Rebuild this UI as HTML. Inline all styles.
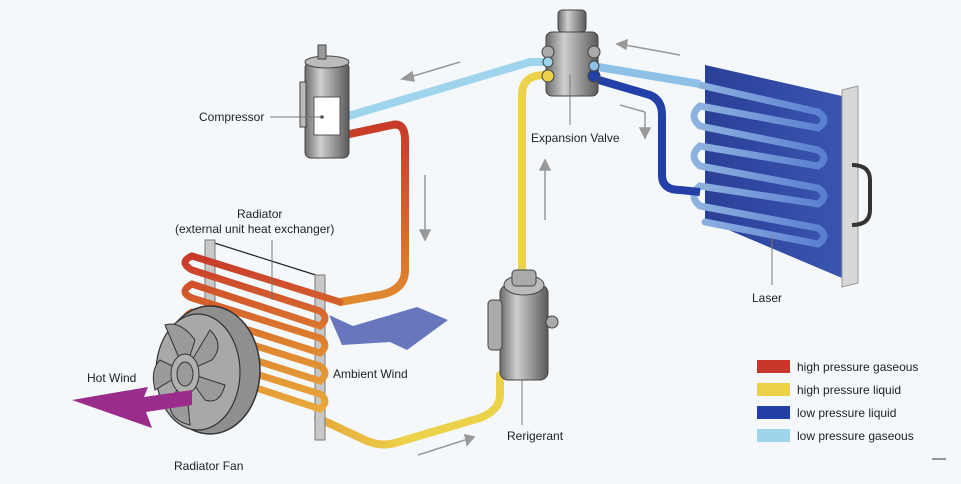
<!DOCTYPE html>
<html><head><meta charset="utf-8"><style>
html,body{margin:0;padding:0;background:#f4f8fb;}
svg{display:block;font-family:"Liberation Sans",sans-serif;}
</style></head><body>
<svg width="961" height="484" viewBox="0 0 961 484" xmlns="http://www.w3.org/2000/svg">
<defs>
<linearGradient id="rad" x1="0" y1="0" x2="0" y2="1"><stop offset="0" stop-color="#c8382a"/><stop offset="0.6" stop-color="#e0862f"/><stop offset="1" stop-color="#e8a93a"/></linearGradient>
<linearGradient id="redp" x1="0" y1="0" x2="0" y2="1"><stop offset="0" stop-color="#c83a28"/><stop offset="1" stop-color="#e08a30"/></linearGradient>
<linearGradient id="yel" x1="0" y1="0" x2="1" y2="0"><stop offset="0" stop-color="#e8a83a"/><stop offset="0.5" stop-color="#ecd24a"/><stop offset="1" stop-color="#ecd24a"/></linearGradient>
<linearGradient id="cyl" x1="0" y1="0" x2="1" y2="0"><stop offset="0" stop-color="#6c6c6c"/><stop offset="0.35" stop-color="#cfcfcf"/><stop offset="1" stop-color="#5a5a5a"/></linearGradient>
<linearGradient id="laser" x1="0" y1="0" x2="1" y2="0"><stop offset="0" stop-color="#2a3f98"/><stop offset="1" stop-color="#3a55b0"/></linearGradient>
<linearGradient id="coilb" x1="0" y1="0" x2="1" y2="0"><stop offset="0" stop-color="#8fb3e0"/><stop offset="1" stop-color="#5a7fd0"/></linearGradient>
</defs>

<path d="M345 117 L530 62 L548 62" fill="none" stroke="#9fd5ec" stroke-width="8"/>
<path d="M345 135 L392 125 Q405 122 405 140 L405 270 Q405 290 380 295 L340 302" fill="none" stroke="url(#redp)" stroke-width="8" stroke-linecap="round"/>
<path d="M545 75 Q522 75 522 95 L522 290" fill="none" stroke="#ecd24a" stroke-width="8"/>
<path d="M500 375 L500 395 Q500 410 480 418 L395 443 Q380 447 365 440 L318 418" fill="none" stroke="url(#yel)" stroke-width="8" stroke-linecap="round"/>

<polygon points="705,65 842,96 842,278 705,220" fill="url(#laser)"/>
<polygon points="842,90 858,86 858,283 842,287" fill="#d8d8d8" stroke="#999" stroke-width="1"/>
<path d="M852 165 Q870 165 870 180 L870 210 Q870 225 852 225" fill="none" stroke="#333" stroke-width="4"/>
<g fill="none" stroke="url(#coilb)" stroke-width="7" stroke-linecap="round">
<path d="M700 85 L818 112 Q830 120 818 128 L700 106 Q688 116 700 126 L818 150 Q830 158 818 166 L700 146 Q688 156 700 166 L818 188 Q830 196 818 204 L700 186 Q688 196 700 206 L818 228 Q830 236 818 244 L705 222"/>
</g>
<path d="M592 66 L700 84" fill="none" stroke="#8fc0e6" stroke-width="8"/>
<path d="M592 78 L650 95 Q662 100 662 115 L662 175 Q662 190 680 190 L700 192" fill="none" stroke="#2240a8" stroke-width="8"/>

<line x1="205" y1="240" x2="322" y2="277" stroke="#222" stroke-width="1.2"/>
<rect x="205" y="240" width="10" height="110" fill="#c8c8c8" stroke="#777"/>
<rect x="315" y="275" width="10" height="165" fill="#c8c8c8" stroke="#777"/>
<g fill="none" stroke="url(#rad)" stroke-width="7" stroke-linecap="round">
<path d="M340 302 L192 256 Q178 262 192 270 L320 311 Q330 318 320 326 L192 284 Q178 292 192 298 L320 338 Q330 345 320 353 L192 312 Q178 320 192 326 L320 366 Q330 373 320 381 L192 340 Q178 348 192 354 L320 394 Q330 401 320 409 L220 376"/>
</g>
<ellipse cx="210" cy="370" rx="50" ry="64" fill="#8f8f8f" stroke="#333" stroke-width="1.5"/>
<ellipse cx="198" cy="372" rx="42" ry="58" fill="#a8a8a8" stroke="#333" stroke-width="1.2"/>
<g stroke="#333" stroke-width="1" fill="#9a9a9a">
<path d="M185 372 L165 325 Q180 320 195 340Z"/><path d="M185 372 L210 330 Q225 345 212 360Z"/><path d="M185 372 L225 385 Q220 405 205 400Z"/><path d="M185 372 L190 425 Q170 420 170 405Z"/><path d="M185 372 L155 390 Q150 370 160 360Z"/>
</g>
<ellipse cx="185" cy="374" rx="14" ry="20" fill="#b0b0b0" stroke="#333"/>
<ellipse cx="185" cy="374" rx="8" ry="12" fill="#9a9a9a" stroke="#333"/>
<polygon points="72,400 148,387 144,397 192,390 192,405 146,412 152,428" fill="#9a2c8c"/>
<polygon points="329,315 353,326 417,307 448,320 407,350 390,342 342,345" fill="#6776bd"/>

<rect x="305" y="62" width="44" height="96" rx="6" fill="url(#cyl)" stroke="#444"/>
<ellipse cx="327" cy="62" rx="22" ry="6" fill="#bbb" stroke="#444"/>
<rect x="318" y="45" width="8" height="14" fill="#999" stroke="#444"/>
<rect x="300" y="82" width="6" height="45" fill="#bbb" stroke="#444"/>
<rect x="314" y="97" width="26" height="38" fill="#fff" stroke="#555"/>
<line x1="270" y1="117" x2="322" y2="117" stroke="#777"/>
<circle cx="322" cy="117" r="1.8" fill="#555"/>

<rect x="558" y="10" width="28" height="22" rx="4" fill="url(#cyl)" stroke="#444"/>
<rect x="546" y="32" width="52" height="64" rx="6" fill="url(#cyl)" stroke="#444"/>
<circle cx="548" cy="52" r="6" fill="#aaa" stroke="#444"/><circle cx="594" cy="52" r="6" fill="#aaa" stroke="#444"/>
<circle cx="548" cy="76" r="6" fill="#ecd24a" stroke="#444"/><circle cx="594" cy="76" r="6" fill="#2240a8" stroke="#444"/>
<circle cx="548" cy="62" r="5" fill="#9fd5ec" stroke="#444"/><circle cx="594" cy="66" r="5" fill="#8fc0e6" stroke="#444"/>
<line x1="570" y1="75" x2="570" y2="125" stroke="#777"/>

<rect x="500" y="285" width="48" height="95" rx="8" fill="url(#cyl)" stroke="#444"/>
<ellipse cx="524" cy="285" rx="20" ry="10" fill="#bbb" stroke="#444"/>
<rect x="512" y="270" width="24" height="16" rx="4" fill="#aaa" stroke="#444"/>
<rect x="488" y="300" width="14" height="50" rx="4" fill="#aaa" stroke="#444"/>
<circle cx="552" cy="322" r="6" fill="#aaa" stroke="#444"/>
<line x1="522" y1="380" x2="522" y2="425" stroke="#777"/>
<line x1="272" y1="240" x2="272" y2="300" stroke="#777"/>
<line x1="772" y1="235" x2="772" y2="285" stroke="#777"/>

<g stroke="#999" stroke-width="1.5" fill="#999">
<line x1="460" y1="62" x2="410" y2="77"/><polygon points="402,79 412,72 414,81"/>
<line x1="680" y1="55" x2="625" y2="45"/><polygon points="617,44 627,40 626,49"/>
<line x1="620" y1="105" x2="645" y2="112"/><line x1="645" y1="112" x2="645" y2="130"/><polygon points="645,138 640,128 650,128"/>
<line x1="425" y1="175" x2="425" y2="230"/><polygon points="425,240 420,230 430,230"/>
<line x1="545" y1="220" x2="545" y2="170"/><polygon points="545,160 540,170 550,170"/>
<line x1="418" y1="455" x2="465" y2="440"/><polygon points="474,437 465,435 467,445"/>
</g>

<g font-size="12" fill="#222">
<text x="199" y="121">Compressor</text>
<text x="531" y="142">Expansion Valve</text>
<text x="237" y="218">Radiator</text>
<text x="175" y="233">(external unit heat exchanger)</text>
<text x="752" y="302">Laser</text>
<text x="333" y="378">Ambient Wind</text>
<text x="87" y="382">Hot Wind</text>
<text x="507" y="440">Rerigerant</text>
<text x="174" y="470">Radiator Fan</text>
</g>
<g font-size="12" fill="#222">
<rect x="757" y="360" width="33" height="13" fill="#c8382a"/><text x="797" y="371">high pressure gaseous</text>
<rect x="757" y="383" width="33" height="13" fill="#ecd24a"/><text x="797" y="394">high pressure liquid</text>
<rect x="757" y="406" width="33" height="13" fill="#2240a8"/><text x="797" y="417">low pressure liquid</text>
<rect x="757" y="429" width="33" height="13" fill="#9fd5ec"/><text x="797" y="440">low pressure gaseous</text>
</g>
<line x1="932" y1="459" x2="946" y2="459" stroke="#333"/>
</svg>
</body></html>
